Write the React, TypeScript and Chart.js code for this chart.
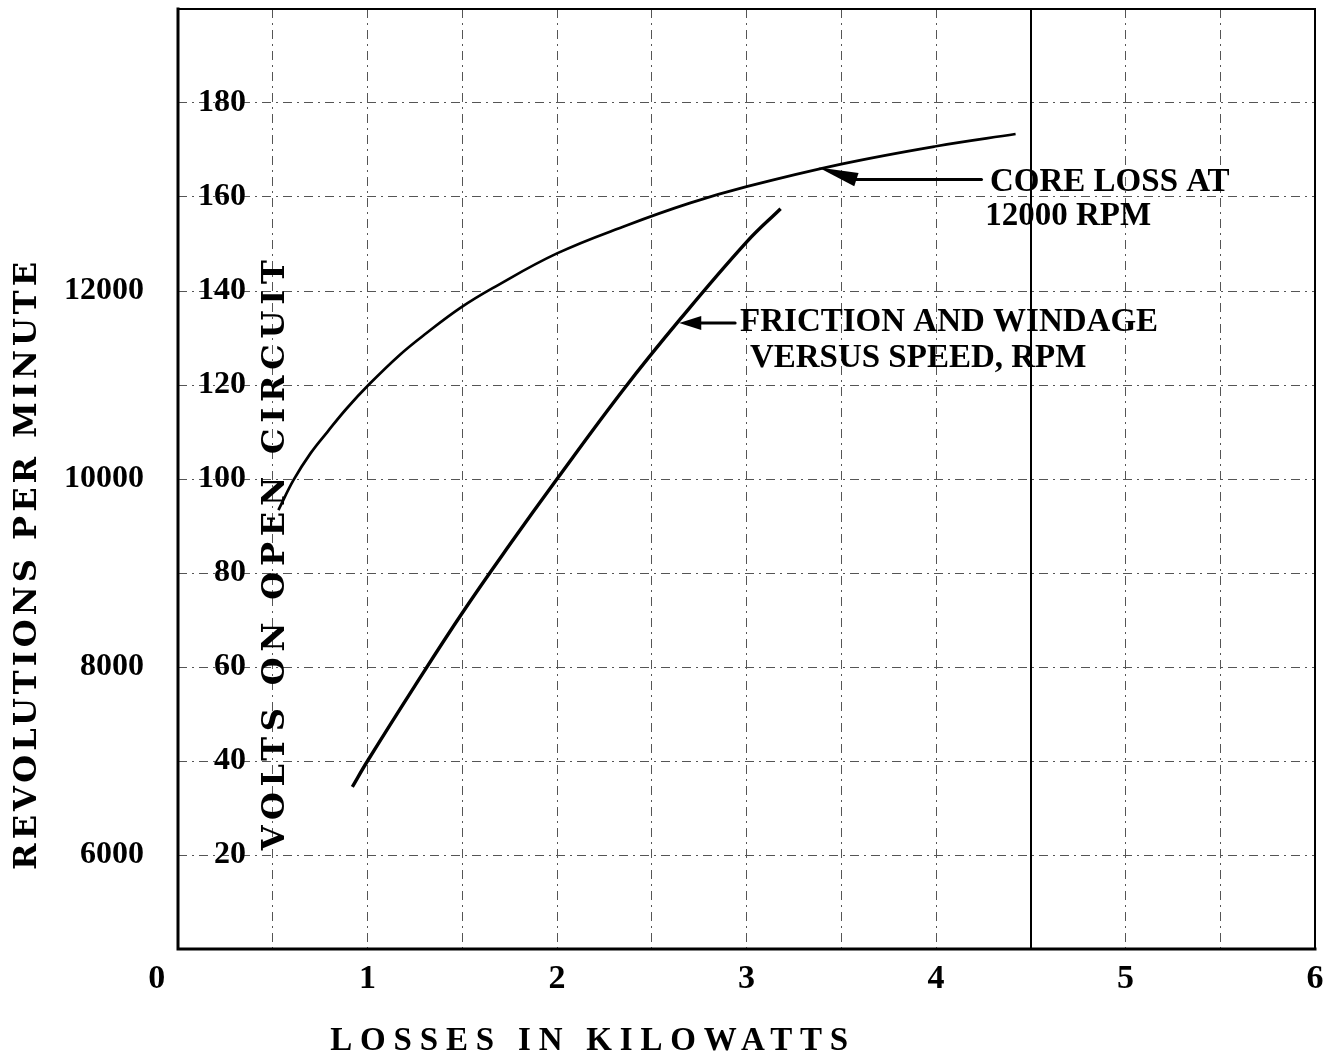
import React, { useEffect, useRef } from 'react';
import { Chart, registerables } from 'chart.js';

Chart.register(...registerables);

// ---------- data ----------
const kwGridValues = [0, 0.5, 1, 1.5, 2, 2.5, 3, 3.5, 4, 4.5, 5, 5.5, 6];
const voltTickValues = [20, 40, 60, 80, 100, 120, 140, 160, 180];
const rpmTickValues = [6000, 8000, 10000, 12000];

// Core loss at 12000 rpm: kW vs open-circuit volts
const coreLossKw = [0.53, 0.61, 0.7, 0.79, 0.89, 1.01, 1.17, 1.31, 1.49, 1.66, 2.0, 2.37, 2.7, 3.0, 3.5, 4.0, 4.42];
const coreLossVolts = [93.4, 99.8, 105.5, 110.1, 115, 120.2, 126.4, 131, 136.4, 140.6, 148, 154, 158.7, 162.2, 167, 170.8, 173.4];

// Friction and windage: kW vs speed (rpm)
const frictionKw = [0.92, 1.0, 1.25, 1.5, 1.75, 2.0, 2.35, 2.65, 3.0, 3.18];
const frictionRpm = [6725, 7000, 7800, 8575, 9300, 10000, 10950, 11700, 12520, 12875];

// ---------- text ----------
const xTitle = 'LOSSES IN KILOWATTS';
const rpmTitle = 'REVOLUTIONS PER MINUTE';
const voltTitle = 'VOLTS ON OPEN CIRCUIT';
const coreLabelLines = ['CORE LOSS AT', '12000 RPM'];
const frictionLabelLines = ['FRICTION AND WINDAGE', 'VERSUS SPEED, RPM'];

// annotation anchors (data units: kW, volts)
const coreLabelKw = [4.285, 4.26];
const coreLabelVolts = [163.1, 155.9];
const frictionLabelKw = [2.966, 3.018];
const frictionLabelVolts = [133.2, 125.7];
const coreArrowKw = [4.24, 3.58, 3.38];
const coreArrowVolts = [163.7, 163.7, 166.3];
const frictionArrowKw = [2.94, 2.645];
const frictionArrowVolts = [133.2, 133.2];

const SERIF = "'Liberation Serif', 'Times New Roman', serif";
const SLAB = "'DejaVu Serif', serif";
const GRID_DASH = [9, 5, 2, 5];
const GRID_COLOR = '#555';

function spacedText(ctx: any, text: string, cx: number, cy: number, font: string, span: number, vertical: boolean) {
  ctx.save();
  ctx.translate(cx, cy);
  if (vertical) ctx.rotate(-Math.PI / 2);
  ctx.font = font;
  ctx.fillStyle = '#000';
  ctx.textBaseline = 'middle';
  ctx.textAlign = 'left';
  const n = text.length;
  if ('letterSpacing' in ctx) {
    ctx.letterSpacing = '0px';
    const w0 = ctx.measureText(text).width;
    const sp = (span - w0) / (n - 1);
    ctx.letterSpacing = sp + 'px';
    ctx.fillText(text, -span / 2, 0);
    ctx.letterSpacing = '0px';
  } else {
    let w0 = 0;
    const ws = text.split('').map((c) => ctx.measureText(c).width);
    ws.forEach((w) => (w0 += w));
    const sp = (span - w0) / (n - 1);
    let px = -span / 2;
    for (let i = 0; i < n; i++) {
      ctx.fillText(text[i], px, 0);
      px += ws[i] + sp;
    }
  }
  ctx.restore();
}

function arrowHead(ctx: any, bx: number, by: number, tx: number, ty: number, halfW: number) {
  const ang = Math.atan2(ty - by, tx - bx);
  const px = -Math.sin(ang) * halfW;
  const py = Math.cos(ang) * halfW;
  ctx.beginPath();
  ctx.moveTo(tx, ty);
  ctx.lineTo(bx + px, by + py);
  ctx.lineTo(bx - px, by - py);
  ctx.closePath();
  ctx.fill();
}

const bgPlugin = {
  id: 'bg',
  beforeDraw(chart: any) {
    const { ctx, width, height } = chart;
    ctx.save();
    ctx.fillStyle = '#fff';
    ctx.fillRect(0, 0, width, height);
    ctx.restore();
  },
};

const decorPlugin = {
  id: 'decor',
  afterDraw(chart: any) {
    const { ctx, chartArea: a, scales } = chart;
    const xs = scales.x;
    const yv = scales.yV;
    ctx.save();
    ctx.strokeStyle = '#000';
    ctx.fillStyle = '#000';
    ctx.lineCap = 'square';
    // frame
    ctx.lineWidth = 3;
    ctx.beginPath();
    ctx.moveTo(a.left, a.top);
    ctx.lineTo(a.left, a.bottom);
    ctx.lineTo(a.right, a.bottom);
    ctx.stroke();
    ctx.lineWidth = 2;
    ctx.beginPath();
    ctx.moveTo(a.left, a.top);
    ctx.lineTo(a.right, a.top);
    ctx.lineTo(a.right, a.bottom);
    ctx.stroke();

    // core loss arrow
    const cp = coreArrowKw.map((k, i) => [xs.getPixelForValue(k), yv.getPixelForValue(coreArrowVolts[i])]);
    ctx.lineWidth = 3;
    ctx.lineCap = 'round';
    ctx.beginPath();
    ctx.moveTo(cp[0][0], cp[0][1]);
    ctx.lineTo(cp[1][0], cp[1][1]);
    ctx.stroke();
    arrowHead(ctx, cp[1][0], cp[1][1], cp[2][0], cp[2][1], 7);

    // friction arrow
    const fp = frictionArrowKw.map((k, i) => [xs.getPixelForValue(k), yv.getPixelForValue(frictionArrowVolts[i])]);
    const headLen = 22;
    ctx.lineWidth = 3;
    ctx.beginPath();
    ctx.moveTo(fp[0][0], fp[0][1]);
    ctx.lineTo(fp[1][0] + headLen - 2, fp[1][1]);
    ctx.stroke();
    arrowHead(ctx, fp[1][0] + headLen, fp[1][1], fp[1][0], fp[1][1], 7);

    // annotation labels
    ctx.font = `bold 33px ${SERIF}`;
    ctx.textAlign = 'left';
    ctx.textBaseline = 'middle';
    coreLabelLines.forEach((t, i) => {
      ctx.fillText(t, xs.getPixelForValue(coreLabelKw[i]), yv.getPixelForValue(coreLabelVolts[i]));
    });
    frictionLabelLines.forEach((t, i) => {
      ctx.fillText(t, xs.getPixelForValue(frictionLabelKw[i]), yv.getPixelForValue(frictionLabelVolts[i]));
    });
    ctx.restore();

    // axis titles
    spacedText(ctx, voltTitle, xs.getPixelForValue(0.517), yv.getPixelForValue(83.8), `bold 32px ${SLAB}`, 590, true);
    spacedText(ctx, rpmTitle, 28, yv.getPixelForValue(81.5), `bold 32px ${SLAB}`, 608, true);
    spacedText(ctx, xTitle, xs.getPixelForValue(2.17), 1041, `bold 33px ${SERIF}`, 518, false);
  },
};

const zeroPad = (s: any) => {
  s.paddingTop = 0;
  s.paddingBottom = 0;
  s.paddingLeft = 0;
  s.paddingRight = 0;
};

export default function App() {
  const ref = useRef<HTMLCanvasElement>(null);

  useEffect(() => {
    document.body.style.margin = '0';
    const canvas = ref.current;
    if (!canvas) return;
    const chart = new Chart(canvas, {
      type: 'line',
      data: {
        datasets: [
          {
            label: 'Core loss at 12000 RPM',
            data: coreLossKw.map((x, i) => ({ x, y: coreLossVolts[i] })),
            yAxisID: 'yV',
            borderColor: '#000',
            borderWidth: 2.7,
            pointRadius: 0,
            fill: false,
            tension: 0.4,
          },
          {
            label: 'Friction and windage versus speed',
            data: frictionKw.map((x, i) => ({ x, y: frictionRpm[i] })),
            yAxisID: 'yR',
            borderColor: '#000',
            borderWidth: 3.4,
            pointRadius: 0,
            fill: false,
            tension: 0.4,
          },
        ],
      },
      options: {
        responsive: false,
        devicePixelRatio: 1,
        animation: false,
        layout: { autoPadding: false, padding: { top: 9, right: 20, left: 0, bottom: 0 } },
        plugins: {
          legend: { display: false },
          tooltip: { enabled: false },
          title: { display: false },
        },
        scales: {
          x: {
            type: 'linear',
            min: 0,
            max: 6,
            afterBuildTicks: (s: any) => {
              s.ticks = kwGridValues.map((v) => ({ value: v }));
            },
            afterFit: (s: any) => {
              s.height = 110;
              zeroPad(s);
            },
            ticks: {
              autoSkip: false,
              maxRotation: 0,
              padding: 10,
              color: '#000',
              font: { family: SERIF, size: 34, weight: 'bold' },
              callback: (v: any) => (Number.isInteger(v) ? (v === 0 ? '0     ' : String(v)) : ''),
            },
            grid: {
              drawTicks: false,
              color: (c: any) => (c.tick && c.tick.value === 4.5 ? '#000' : GRID_COLOR),
              lineWidth: (c: any) => (c.tick && c.tick.value === 4.5 ? 2 : 1),
            },
            border: {
              display: false,
              dash: (c: any) => (c.tick && c.tick.value === 4.5 ? [] : GRID_DASH),
            },
          },
          yR: {
            type: 'linear',
            position: 'left',
            weight: 1,
            min: 5000,
            max: 15000,
            afterBuildTicks: (s: any) => {
              s.ticks = rpmTickValues.map((v) => ({ value: v }));
            },
            afterFit: (s: any) => {
              s.width = 178;
              zeroPad(s);
            },
            ticks: {
              padding: 34,
              color: '#000',
              font: { family: SERIF, size: 32, weight: 'bold' },
              callback: (v: any) => String(v),
            },
            grid: { display: false, drawTicks: false },
            border: { display: false },
          },
          yV: {
            type: 'linear',
            position: 'left',
            weight: 0,
            min: 0,
            max: 200,
            afterBuildTicks: (s: any) => {
              s.ticks = voltTickValues.map((v) => ({ value: v }));
            },
            afterFit: (s: any) => {
              s.width = 0;
              zeroPad(s);
            },
            ticks: {
              mirror: true,
              crossAlign: 'far',
              padding: 20,
              color: '#000',
              font: { family: SERIF, size: 32, weight: 'bold' },
              callback: (v: any) => String(v),
            },
            grid: { drawTicks: false, color: GRID_COLOR, lineWidth: 1 },
            border: { display: false, dash: GRID_DASH },
          },
        },
      },
      plugins: [bgPlugin, decorPlugin],
    } as any);
    return () => chart.destroy();
  }, []);

  return (
    <div style={{ width: 1335, height: 1059, background: '#fff' }}>
      <canvas ref={ref} width={1335} height={1059} style={{ display: 'block' }} />
    </div>
  );
}
